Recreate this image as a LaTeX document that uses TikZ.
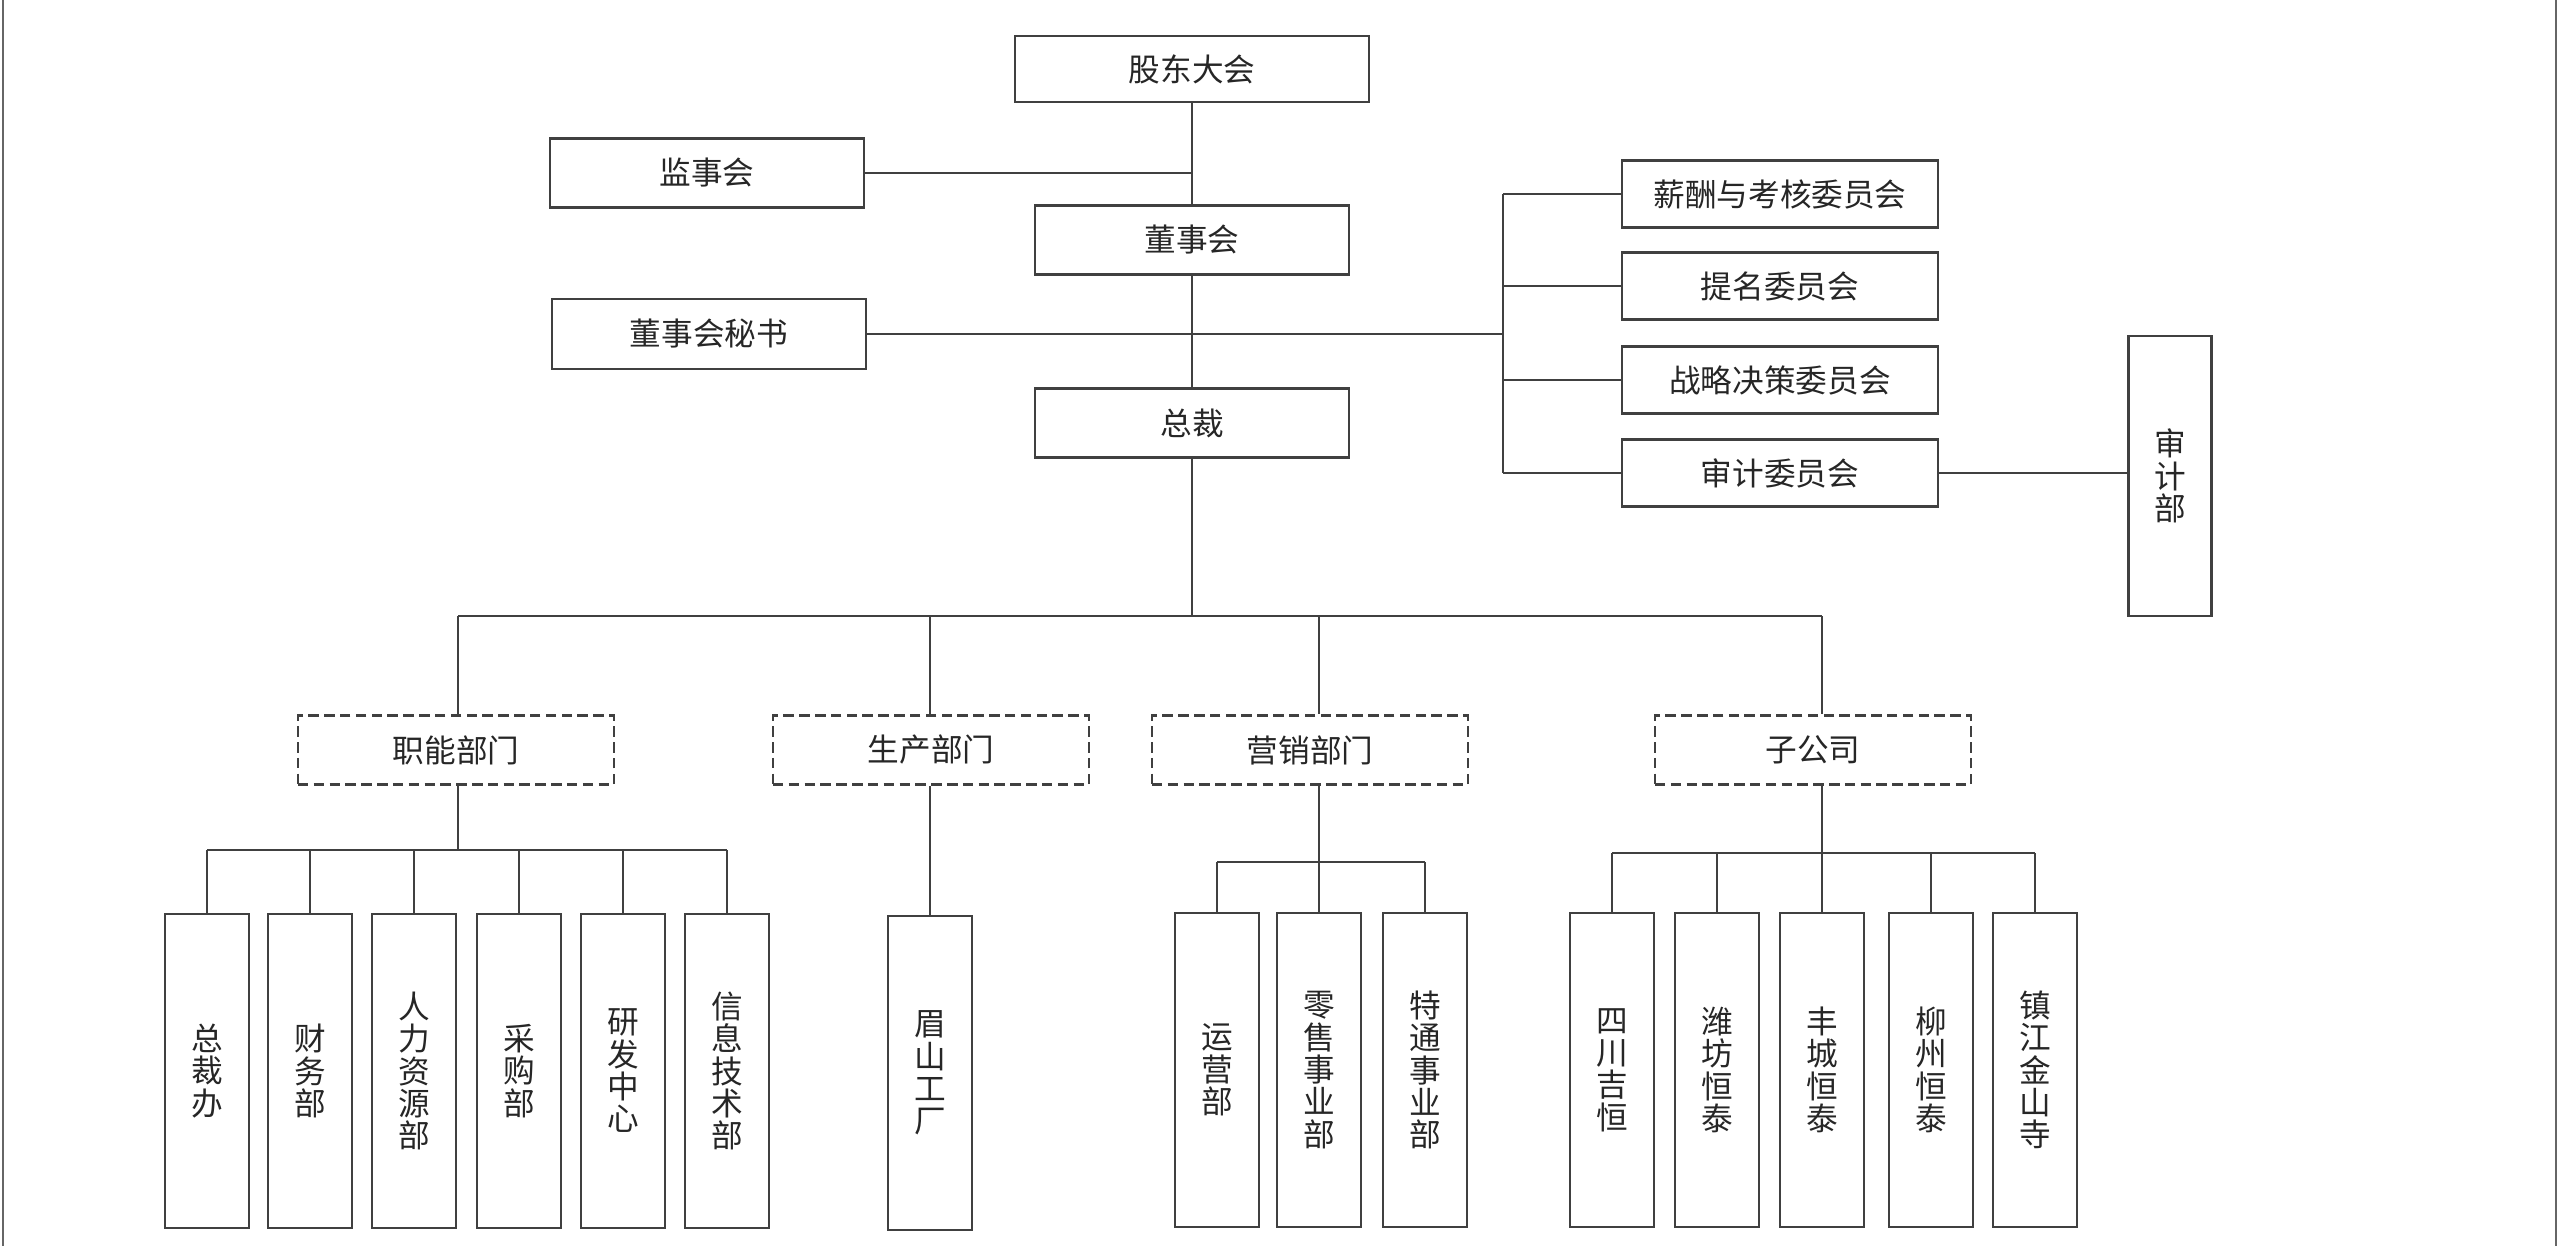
\documentclass[tikz,border=0pt]{standalone}
\usepackage{fontspec}
\setmainfont{Noto Sans CJK SC}
\usetikzlibrary{positioning}
\tikzstyle{org}=[every node/.style={draw=black!75,line width=0.6pt,rectangle,
                inner sep=0,text=black!85,font=\fontsize{9}{9.2}\selectfont},
                x=0.01cm, y=-0.01cm]
\tikzstyle{wbox}=[minimum width=3.14cm, minimum height=0.69cm]
\tikzstyle{cbox}=[minimum width=3.15cm, minimum height=0.67cm]
\tikzstyle{gbox}=[dash pattern=on 3pt off 1.5pt, minimum width=3.16cm,
                minimum height=0.69cm]
\tikzstyle{vbox}=[minimum width=0.84cm, minimum height=3.13cm, align=center]
\tikzstyle{link}=[draw=black!75, line width=0.6pt]

\begin{document}
\begin{tikzpicture}[org]
\path[use as bounding box] (0,0) rectangle (2560,1246);
\draw[black!60, line width=0.6pt] (3,0) -- (3,1246) (2556,0) -- (2556,1246);
% top of the chart
\node[wbox, minimum width=3.53cm, minimum height=0.66cm] (gd) at (1192,69) {股东大会};
\node[wbox] (jsh) at (707,173) {监事会};
\node[wbox] (dsh) at (1192,240) {董事会};
\node[wbox, minimum height=0.7cm] (ms) at (709,334) {董事会秘书};
\node[wbox] (zc) at (1192,423) {总裁};
% committees
\node[cbox] (xc) at (1780,194) {薪酬与考核委员会};
\node[cbox] (tm) at (1780,286) {提名委员会};
\node[cbox] (zl) at (1780,380) {战略决策委员会};
\node[cbox] (sw) at (1780,473) {审计委员会};
\node[vbox, minimum width=0.83cm, minimum height=2.8cm] (sjb) at (2170,476) {审\\计\\部};
\coordinate (cb) at (1503,194);
% groups
\node[gbox] (zn) at (456,750) {职能部门};
\node[gbox] (sc) at (931,750) {生产部门};
\node[gbox] (yx) at (1310,750) {营销部门};
\node[gbox] (zg) at (1813,750) {子公司};
\coordinate (bus) at (1192,616);
% departments
\node[vbox] (d1) at (207,1071) {总\\裁\\办};
\node[vbox] (d2) at (310,1071) {财\\务\\部};
\node[vbox] (d3) at (414,1071) {人\\力\\资\\源\\部};
\node[vbox] (d4) at (519,1071) {采\\购\\部};
\node[vbox] (d5) at (623,1071) {研\\发\\中\\心};
\node[vbox] (d6) at (727,1071) {信\\息\\技\\术\\部};
\node[vbox] (p1) at (930,1073) {眉\\山\\工\\厂};
\node[vbox] (m1) at (1217,1070) {运\\营\\部};
\node[vbox] (m2) at (1319,1070) {零\\售\\事\\业\\部};
\node[vbox] (m3) at (1425,1070) {特\\通\\事\\业\\部};
\node[vbox] (s1) at (1612,1070) {四\\川\\吉\\恒};
\node[vbox] (s2) at (1717,1070) {潍\\坊\\恒\\泰};
\node[vbox] (s3) at (1822,1070) {丰\\城\\恒\\泰};
\node[vbox] (s4) at (1931,1070) {柳\\州\\恒\\泰};
\node[vbox] (s5) at (2035,1070) {镇\\江\\金\\山\\寺};
\coordinate (znb) at (458,850);
\coordinate (yxb) at (1319,862);
\coordinate (zgb) at (1822,853);

\path[link]
  (gd) edge (dsh)
  (dsh) edge (zc)
  (zc) edge (bus)
  (jsh.east) edge (jsh.east -| gd.south)
  (ms.east) edge (ms.east -| cb)
  (cb) edge (sw.west -| cb)
  (cb) edge (xc.west)
  (tm.west -| cb) edge (tm.west)
  (zl.west -| cb) edge (zl.west)
  (sw.west -| cb) edge (sw.west)
  (sw.east) edge (sw.east -| sjb.west);
\path[link]
  (znb |- bus) edge (zgb |- bus)
  (znb |- bus) edge (znb |- zn.north)
  (p1.north |- bus) edge (p1.north |- sc.north)
  (yxb |- bus) edge (yxb |- yx.north)
  (zgb |- bus) edge (zgb |- zg.north)
  (znb |- zn.south) edge (znb)
  (p1.north |- sc.south) edge (p1.north)
  (yxb |- yx.south) edge (yxb)
  (zgb |- zg.south) edge (zgb);
\path[link]
  (d1.north |- znb) edge (d6.north |- znb)
  (d1.north |- znb) edge (d1.north)
  (d2.north |- znb) edge (d2.north)
  (d3.north |- znb) edge (d3.north)
  (d4.north |- znb) edge (d4.north)
  (d5.north |- znb) edge (d5.north)
  (d6.north |- znb) edge (d6.north)
  (m1.north |- yxb) edge (m3.north |- yxb)
  (m1.north |- yxb) edge (m1.north)
  (m2.north |- yxb) edge (m2.north)
  (m3.north |- yxb) edge (m3.north)
  (s1.north |- zgb) edge (s5.north |- zgb)
  (s1.north |- zgb) edge (s1.north)
  (s2.north |- zgb) edge (s2.north)
  (s3.north |- zgb) edge (s3.north)
  (s4.north |- zgb) edge (s4.north)
  (s5.north |- zgb) edge (s5.north);
\end{tikzpicture}
\end{document}
